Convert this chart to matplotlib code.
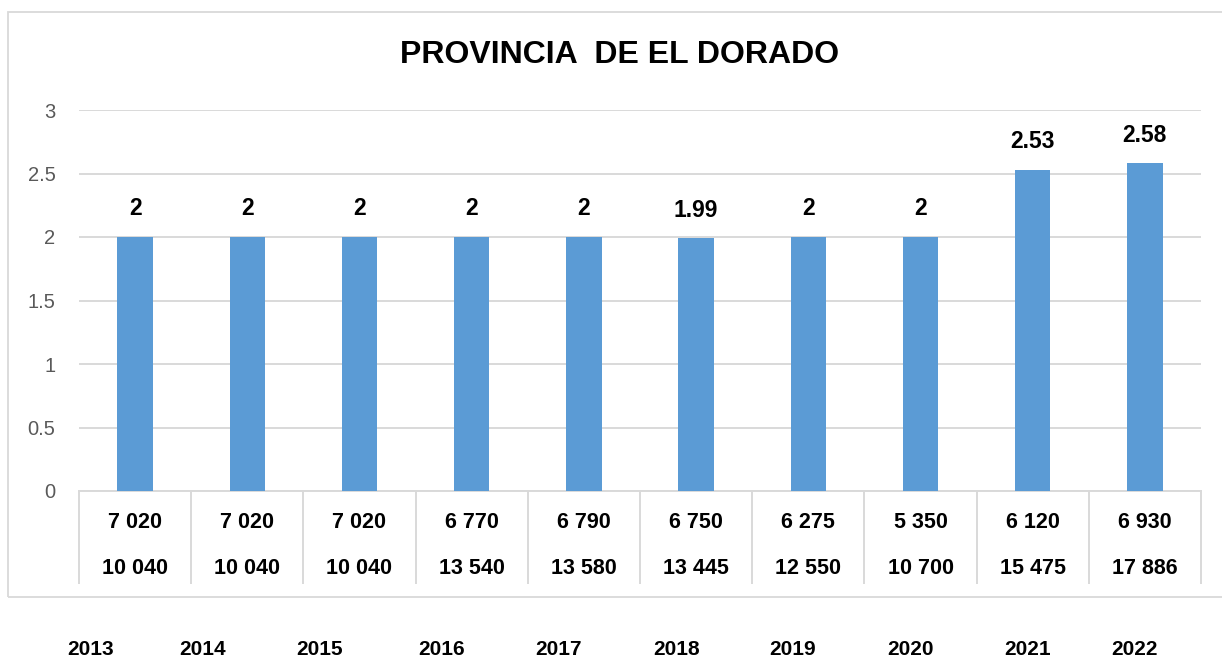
import matplotlib
matplotlib.use("Agg")
import matplotlib.pyplot as plt
from matplotlib.patches import Rectangle
from matplotlib.lines import Line2D

plt.rcParams['font.family'] = ['Liberation Sans', 'DejaVu Sans']

years = ["2013", "2014", "2015", "2016", "2017", "2018", "2019", "2020", "2021", "2022"]
values = [2, 2, 2, 2, 2, 1.99, 2, 2, 2.53, 2.58]
value_labels = ["2", "2", "2", "2", "2", "1.99", "2", "2", "2.53", "2.58"]
row1 = ["7 020", "7 020", "7 020", "6 770", "6 790", "6 750", "6 275", "5 350", "6 120", "6 930"]
row2 = ["10 040", "10 040", "10 040", "13 540", "13 580", "13 445", "12 550", "10 700", "15 475", "17 886"]
year_x_px = [91, 203, 320, 442, 559, 677, 793, 910, 1028, 1135]
title = "PROVINCIA  DE EL DORADO"
yticks = [0, 0.5, 1, 1.5, 2, 2.5, 3]

W, H = 1222, 657
fig = plt.figure(figsize=(W / 100, H / 100), dpi=100)

# outer chart border
fig.patches.append(Rectangle((8 / W, 1 - 597 / H), (W + 5 - 8) / W, (597 - 11.5) / H,
                             transform=fig.transFigure, fill=False,
                             edgecolor='#D9D9D9', linewidth=1.3, clip_on=False))

left, right, top, bottom = 79, 1201, 110, 491
ax = fig.add_axes([left / W, 1 - bottom / H, (right - left) / W, (bottom - top) / H])
n = len(years)
x = list(range(n))
ax.bar(x, values, width=0.315, color='#5B9BD5', zorder=3)
ax.set_xlim(-0.5, n - 0.5)
ax.set_ylim(0, 3)
ax.set_yticks(yticks)
ax.set_yticklabels(["0", "0.5", "1", "1.5", "2", "2.5", "3"])
ax.tick_params(axis='y', length=0, pad=17, labelsize=14.5, labelcolor='#595959')
ax.set_xticks([])
for s in ax.spines.values():
    s.set_visible(False)
ax.grid(axis='y', color='#D9D9D9', linewidth=1.4, zorder=0)

for xi, v, lab in zip(x, values, value_labels):
    ax.annotate(lab, (xi, v), xytext=(0, 12), textcoords='offset points',
                ha='center', va='bottom', fontsize=16.5, fontweight='bold', color='black')

# category table below the axis
ax_h = bottom - top
tbl_bottom = -(583 - bottom) / ax_h
ax.add_line(Line2D([-0.5, n - 0.5], [0, 0], color='#D9D9D9', linewidth=1.4,
                   clip_on=False, zorder=2))
for i in range(n + 1):
    ax.add_line(Line2D([i - 0.5, i - 0.5], [0, tbl_bottom * 3], color='#D9D9D9',
                       linewidth=1.4, clip_on=False))
for xi, a, b in zip(x, row1, row2):
    ax.text(xi, -(522 - bottom) / ax_h * 3, a, ha='center', va='center',
            fontsize=15.5, fontweight='bold')
    ax.text(xi, -(569 - bottom) / ax_h * 3, b, ha='center', va='center',
            fontsize=15.5, fontweight='bold')

fig.text(620 / W, 1 - 55 / H, title, ha='center', va='center', fontsize=23, fontweight='bold')

for yx, yr in zip(year_x_px, years):
    fig.text(yx / W, 1 - 655 / H, yr, ha='center', va='baseline', fontsize=15, fontweight='bold')

fig.savefig("out.png", dpi=100, facecolor='white')
